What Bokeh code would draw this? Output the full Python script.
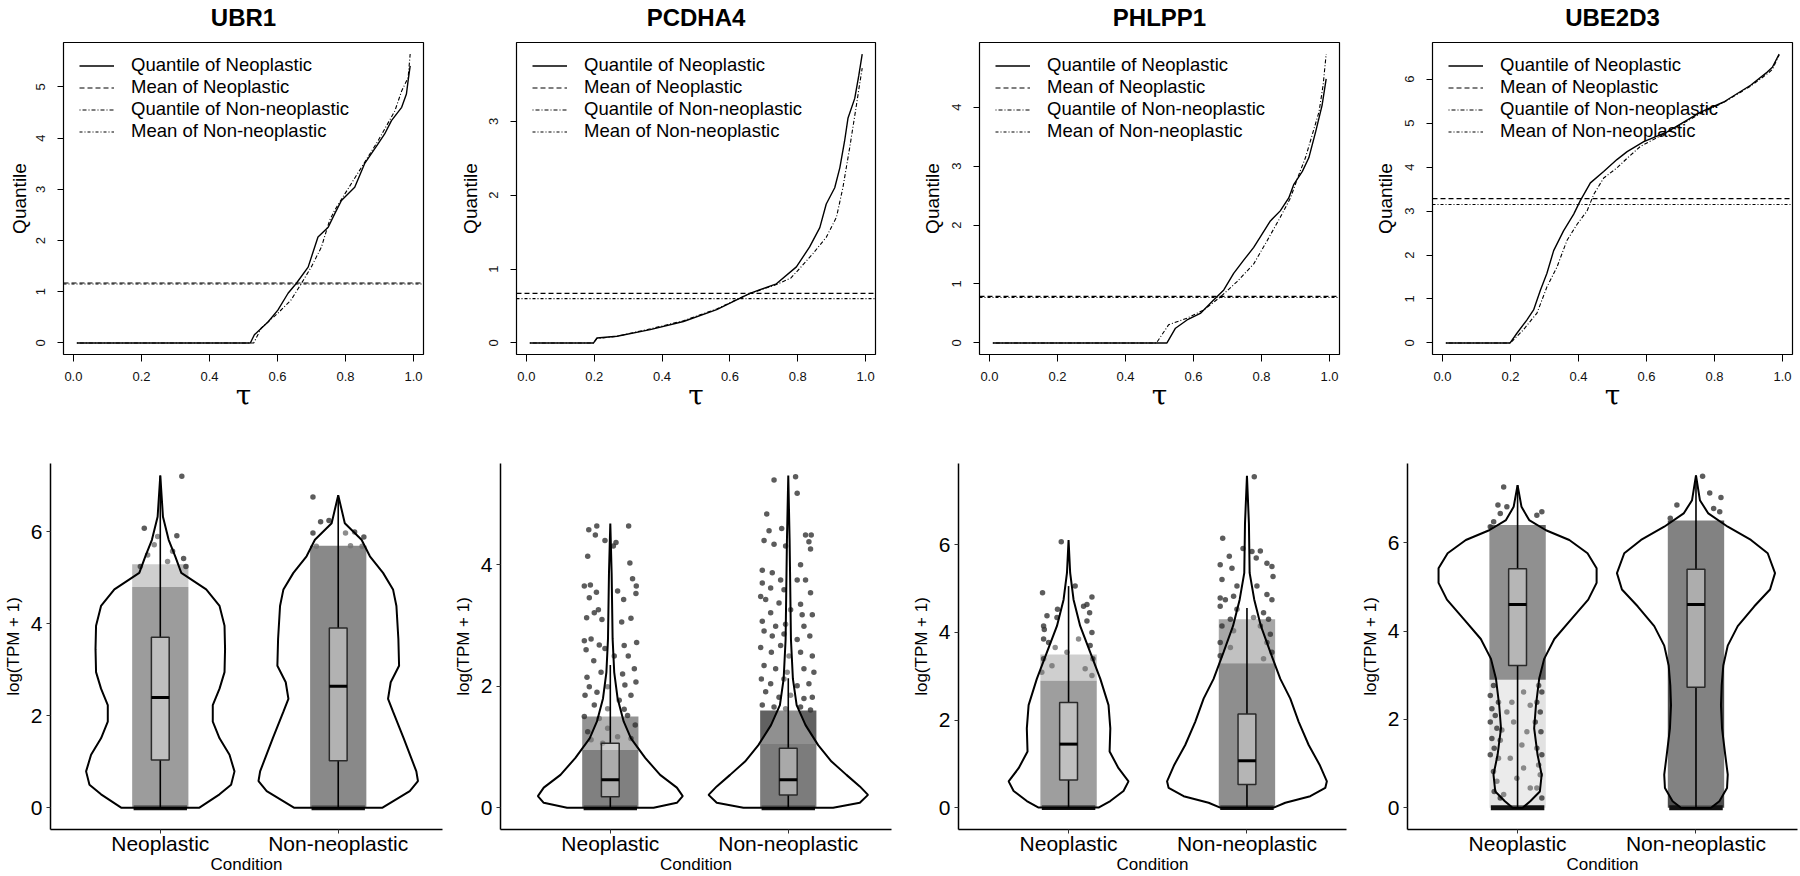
from bokeh.plotting import figure
from bokeh.layouts import row, column
from bokeh.models import (Range1d, FixedTicker, PrintfTickFormatter, Legend, LegendItem,
                          LinearAxis)
from bokeh.embed import file_html
from bokeh.resources import INLINE

# ---------------------------------------------------------------- data
GENES = ["UBR1", "PCDHA4", "PHLPP1", "UBE2D3"]
CONDITIONS = ["Neoplastic", "Non-neoplastic"]
LEGEND_LABELS = ["Quantile of Neoplastic", "Mean of Neoplastic",
                 "Quantile of Non-neoplastic", "Mean of Non-neoplastic"]
TOP_X_TICKS = [0.0, 0.2, 0.4, 0.6, 0.8, 1.0]
BOTTOM_Y_TICKS = [0, 2, 4, 6]
TOP_XLABEL, TOP_YLABEL = "τ", "Quantile"
BOT_XLABEL, BOT_YLABEL = "Condition", "log(TPM + 1)"

# quantile curves (tau, quantile)
ubr1_neo_tau = [0.01, 0.52, 0.532, 0.572, 0.601, 0.631, 0.655, 0.69, 0.719, 0.749, 0.768, 0.788,
                0.827, 0.856, 0.896, 0.915, 0.935, 0.965, 0.979, 0.984, 0.99]
ubr1_neo_q = [0, 0, 0.16, 0.41, 0.64, 0.97, 1.16, 1.48, 2.07, 2.26, 2.52, 2.78,
              3.04, 3.5, 3.89, 4.08, 4.34, 4.6, 4.86, 5.12, 5.41]
ubr1_non_tau = [0.01, 0.53, 0.552, 0.601, 0.64, 0.67, 0.699, 0.729, 0.753, 0.768, 0.798, 0.847,
                0.896, 0.945, 0.965, 0.984, 0.99]
ubr1_non_q = [0, 0, 0.29, 0.58, 0.84, 1.16, 1.48, 1.87, 2.39, 2.59, 2.91, 3.43,
              3.95, 4.53, 4.92, 5.18, 5.64]

pcdha4_neo_tau = [0.01, 0.198, 0.208, 0.267, 0.365, 0.463, 0.561, 0.659, 0.737, 0.796, 0.835,
                  0.865, 0.884, 0.909, 0.924, 0.938, 0.948, 0.968, 0.98, 0.99]
pcdha4_neo_q = [0, 0, 0.067, 0.09, 0.18, 0.29, 0.45, 0.67, 0.8, 1.03, 1.3,
                1.56, 1.88, 2.1, 2.37, 2.73, 3.04, 3.31, 3.62, 3.91]
pcdha4_non_tau = [0.01, 0.198, 0.208, 0.267, 0.365, 0.463, 0.561, 0.659, 0.737, 0.78, 0.796,
                  0.845, 0.884, 0.914, 0.933, 0.953, 0.973, 0.982, 0.99]
pcdha4_non_q = [0, 0, 0.06, 0.09, 0.19, 0.30, 0.46, 0.67, 0.79, 0.88, 0.96,
                1.21, 1.43, 1.70, 2.1, 2.64, 3.22, 3.49, 3.72]

phlpp1_neo_tau = [0.01, 0.522, 0.547, 0.581, 0.62, 0.659, 0.689, 0.718, 0.747, 0.777, 0.802,
                  0.826, 0.855, 0.88, 0.895, 0.92, 0.939, 0.959, 0.978, 0.99]
phlpp1_neo_q = [0, 0, 0.25, 0.39, 0.5, 0.73, 0.9, 1.18, 1.4, 1.62, 1.85,
                2.07, 2.24, 2.46, 2.69, 2.91, 3.14, 3.58, 4.03, 4.48]
phlpp1_non_tau = [0.01, 0.491, 0.527, 0.581, 0.63, 0.679, 0.728, 0.777, 0.817, 0.855, 0.885,
                  0.91, 0.929, 0.949, 0.969, 0.981, 0.99]
phlpp1_non_q = [0, 0, 0.31, 0.42, 0.56, 0.78, 1.04, 1.34, 1.74, 2.13, 2.46,
                2.86, 3.14, 3.53, 3.92, 4.37, 4.9]

ube2d3_neo_tau = [0.01, 0.199, 0.219, 0.248, 0.268, 0.288, 0.307, 0.327, 0.356, 0.386, 0.405,
                  0.435, 0.474, 0.513, 0.543, 0.592, 0.661, 0.759, 0.827, 0.906, 0.955, 0.97, 0.99]
ube2d3_neo_q = [0, 0, 0.22, 0.52, 0.75, 1.2, 1.58, 2.1, 2.55, 2.93, 3.23,
                3.64, 3.9, 4.17, 4.35, 4.58, 4.8, 5.25, 5.48, 5.86, 6.16, 6.27, 6.57]
ube2d3_non_tau = [0.01, 0.2, 0.238, 0.278, 0.307, 0.337, 0.366, 0.396, 0.425, 0.445, 0.474,
                  0.513, 0.543, 0.582, 0.661, 0.759, 0.827, 0.906, 0.955, 0.97, 0.99]
ube2d3_non_q = [0, 0, 0.3, 0.68, 1.27, 1.73, 2.33, 2.7, 3.0, 3.38, 3.75,
                3.98, 4.2, 4.47, 4.79, 5.22, 5.47, 5.84, 6.12, 6.22, 6.55]

# means (Neoplastic, Non-neoplastic)
ubr1_means = [1.17, 1.15]
pcdha4_means = [0.67, 0.60]
phlpp1_means = [0.79, 0.77]
ube2d3_means = [3.28, 3.15]

# violin outlines: value grid and half-width (in category units)
ubr1_neo_vy = [0, 0.29, 0.50, 0.79, 1.15, 1.51, 1.87, 2.23, 2.59, 2.95, 3.45, 3.96, 4.39, 4.75,
               5.11, 5.47, 5.83, 6.33, 7.23]
ubr1_neo_vw = [0.220, 0.333, 0.398, 0.417, 0.389, 0.333, 0.295, 0.295, 0.333, 0.361, 0.364,
               0.361, 0.333, 0.258, 0.118, 0.084, 0.047, 0.015, 0.0]
ubr1_non_vy = [0, 0.36, 0.58, 0.79, 1.51, 2.09, 2.37, 2.73, 3.09, 3.67, 4.39, 4.75, 5.11, 5.47,
               5.83, 6.19, 6.80]
ubr1_non_vw = [0.249, 0.402, 0.448, 0.439, 0.368, 0.308, 0.280, 0.295, 0.342, 0.338, 0.327,
               0.308, 0.252, 0.178, 0.131, 0.037, 0.0]
pcdha4_neo_vy = [0, 0.08, 0.19, 0.33, 0.54, 0.82, 1.14, 1.42, 1.80, 2.23, 2.78, 3.86, 4.68]
pcdha4_neo_vw = [0.243, 0.374, 0.407, 0.374, 0.280, 0.196, 0.116, 0.075, 0.041, 0.022, 0.013,
                 0.0075, 0.0]
pcdha4_non_vy = [0, 0.08, 0.21, 0.35, 0.54, 0.76, 1.03, 1.36, 1.69, 2.12, 2.77, 4.41, 5.47]
pcdha4_non_vw = [0.252, 0.402, 0.448, 0.402, 0.327, 0.243, 0.168, 0.097, 0.047, 0.026, 0.015,
                 0.0075, 0.0]
phlpp1_neo_vy = [0, 0.15, 0.38, 0.60, 0.90, 1.28, 1.81, 2.34, 2.94, 3.55, 4.15, 4.75, 5.36, 6.11]
phlpp1_neo_vw = [0.168, 0.234, 0.308, 0.336, 0.280, 0.230, 0.234, 0.224, 0.178, 0.121, 0.065,
                 0.028, 0.009, 0.0]
phlpp1_non_vy = [0, 0.11, 0.26, 0.45, 0.60, 0.98, 1.43, 1.96, 2.49, 2.94, 3.55, 4.15, 4.75, 5.36,
                 6.49, 7.58]
phlpp1_non_vw = [0.150, 0.215, 0.355, 0.439, 0.448, 0.407, 0.346, 0.290, 0.243, 0.187, 0.131,
                 0.078, 0.041, 0.015, 0.011, 0.0]
ube2d3_neo_vy = [0, 0.15, 0.37, 0.75, 1.20, 1.80, 2.32, 2.92, 3.37, 3.82, 4.26, 4.71, 5.09, 5.42,
                 5.76, 6.06, 6.28, 6.51, 6.81, 7.30]
ube2d3_neo_vw = [0.028, 0.071, 0.125, 0.135, 0.112, 0.093, 0.103, 0.121, 0.149, 0.206, 0.299,
                 0.396, 0.443, 0.443, 0.392, 0.290, 0.159, 0.065, 0.022, 0.0]
ube2d3_non_vy = [0, 0.15, 0.45, 0.75, 1.20, 1.80, 2.32, 2.77, 3.22, 3.67, 4.11, 4.56, 4.94, 5.31,
                 5.76, 6.06, 6.36, 6.66, 6.96, 7.52]
ube2d3_non_vw = [0.084, 0.131, 0.174, 0.178, 0.164, 0.146, 0.140, 0.144, 0.153, 0.178, 0.234,
                 0.327, 0.415, 0.443, 0.402, 0.308, 0.178, 0.069, 0.022, 0.0]

# box statistics: lower whisker, Q1, median, Q3, upper whisker
ubr1_neo_box = [0, 1.04, 2.40, 3.71, 7.23]
ubr1_non_box = [0, 1.02, 2.64, 3.91, 6.80]
pcdha4_neo_box = [0, 0.18, 0.46, 1.06, 2.35]
pcdha4_non_box = [0, 0.21, 0.46, 0.98, 2.13]
phlpp1_neo_box = [0, 0.63, 1.45, 2.40, 5.06]
phlpp1_non_box = [0, 0.53, 1.07, 2.14, 4.56]
ube2d3_neo_box = [0, 3.22, 4.60, 5.41, 7.30]
ube2d3_non_box = [0, 2.73, 4.60, 5.40, 7.52]

# densely overlapping jittered samples: value spans (from, to, density)
ubr1_neo_dense = [(0, 4.8, 0.72), (4.8, 5.3, 0.35)]
ubr1_non_dense = [(0, 5.7, 0.85)]
pcdha4_neo_dense = [(0, 0.95, 0.92), (0.95, 1.5, 0.55)]
pcdha4_non_dense = [(0, 1.05, 0.95), (1.05, 1.6, 0.8)]
phlpp1_neo_dense = [(0, 2.9, 0.7), (2.9, 3.5, 0.35)]
phlpp1_non_dense = [(0, 3.3, 0.82), (3.3, 4.3, 0.45)]
ube2d3_neo_dense = [(0, 2.9, 0.15), (2.9, 6.4, 0.8)]
ube2d3_non_dense = [(0, 6.5, 0.9)]

# individually visible jittered samples: (jitter offset, value)
ubr1_neo_pts = [(0.121, 7.21), (-0.09, 6.08), (0.093, 5.92), (0.131, 5.42), (-0.071, 5.50),
                (-0.034, 5.72), (-0.112, 5.25), (0.041, 5.36), (0.069, 5.58), (0.144, 5.25),
                (-0.015, 5.90)]
ubr1_non_pts = [(-0.142, 6.76), (-0.142, 5.98), (-0.099, 6.22), (-0.052, 6.25), (0.041, 5.98),
                (0.092, 6.0), (0.144, 5.89), (0.134, 5.69), (-0.123, 5.69), (0.069, 5.70)]
pcdha4_neo_pts = [(-0.121, 4.58), (-0.076, 4.64), (-0.084, 4.49), (0.103, 4.64), (-0.030, 4.40),
                  (0.032, 4.37), (0.017, 4.31), (-0.127, 4.14), (0.110, 4.03), (0.125, 3.77),
                  (-0.146, 3.65), (-0.112, 3.67), (0.146, 3.65), (0.144, 3.53), (-0.078, 3.55),
                  (0.041, 3.57), (0.075, 3.43), (-0.118, 3.46), (-0.067, 3.26), (-0.090, 3.21),
                  (-0.133, 3.13), (-0.047, 3.10), (0.064, 3.06), (0.116, 3.12), (-0.146, 2.75),
                  (-0.108, 2.78), (-0.062, 2.68), (0.078, 2.67), (0.148, 2.72), (-0.136, 2.60),
                  (-0.030, 2.62), (0.022, 2.50), (-0.093, 2.42), (0.101, 2.50), (-0.131, 2.15),
                  (-0.052, 2.23), (0.069, 2.20), (0.135, 2.29), (-0.118, 1.99), (-0.075, 1.90),
                  (-0.015, 1.99), (0.082, 2.02), (0.144, 2.07), (-0.142, 1.85), (0.116, 1.85),
                  (0.050, 1.77), (-0.090, 1.69), (-0.015, 1.63), (0.078, 1.62), (-0.146, 1.50),
                  (-0.062, 1.47), (0.097, 1.52), (0.140, 1.36), (-0.127, 1.25), (-0.015, 1.31),
                  (0.041, 1.17), (0.116, 1.14), (-0.108, 1.12), (-0.043, 1.06)]
pcdha4_non_pts = [(-0.080, 5.40), (0.041, 5.45), (0.050, 5.18), (-0.121, 4.84), (-0.108, 4.56),
                  (-0.037, 4.60), (-0.136, 4.40), (-0.080, 4.34), (-0.015, 4.31), (0.097, 4.49),
                  (0.129, 4.49), (0.116, 4.38), (0.125, 4.26), (0.069, 4.00), (-0.146, 3.91),
                  (-0.090, 3.87), (-0.043, 3.75), (0.050, 3.75), (0.097, 3.75), (0.125, 3.54),
                  (0.069, 3.35), (-0.146, 3.70), (-0.099, 3.62), (-0.024, 3.59), (-0.155, 3.48),
                  (-0.127, 3.43), (-0.052, 3.37), (-0.099, 3.21), (0.013, 3.26), (0.078, 3.18),
                  (0.135, 3.18), (-0.146, 3.07), (-0.071, 2.99), (-0.015, 3.02), (0.088, 2.99),
                  (-0.136, 2.91), (-0.090, 2.83), (-0.024, 2.86), (0.050, 2.77), (0.121, 2.83),
                  (-0.155, 2.64), (-0.095, 2.56), (-0.043, 2.67), (0.004, 2.50), (0.069, 2.56),
                  (0.135, 2.50), (-0.136, 2.34), (-0.071, 2.29), (-0.006, 2.23), (0.088, 2.29),
                  (0.144, 2.23), (-0.151, 2.12), (-0.099, 2.04), (-0.024, 2.12), (0.050, 2.01),
                  (0.116, 2.04), (-0.127, 1.91), (-0.052, 1.82), (0.013, 1.85), (0.088, 1.80),
                  (0.135, 1.82), (-0.146, 1.69), (-0.080, 1.66), (-0.015, 1.63), (0.069, 1.66),
                  (0.125, 1.61)]
phlpp1_neo_pts = [(-0.041, 6.07), (-0.146, 4.91), (0.037, 5.06), (-0.062, 4.53), (0.084, 4.60),
                  (0.103, 4.64), (0.131, 4.81), (0.118, 4.45), (-0.121, 4.38), (-0.065, 4.34),
                  (-0.140, 4.15), (-0.136, 4.07), (0.103, 4.26), (0.131, 4.00), (-0.140, 3.85),
                  (-0.112, 3.77), (-0.075, 3.66), (-0.009, 3.55), (0.056, 3.85), (0.121, 3.70),
                  (0.136, 3.40), (-0.140, 3.40), (-0.093, 3.24), (0.093, 3.17), (0.131, 3.02),
                  (-0.150, 3.09)]
phlpp1_non_pts = [(0.041, 7.56), (-0.136, 6.15), (-0.022, 5.92), (0.028, 5.85), (0.075, 5.86),
                  (0.052, 5.70), (-0.150, 5.55), (-0.099, 5.74), (-0.084, 5.47), (0.112, 5.58),
                  (0.140, 5.51), (0.146, 5.28), (-0.140, 5.21), (-0.056, 5.06), (0.056, 5.06),
                  (0.112, 4.87), (-0.150, 4.79), (-0.121, 4.75), (-0.075, 4.83), (0.140, 4.75),
                  (-0.150, 4.60), (-0.056, 4.53), (0.093, 4.45), (-0.093, 4.30), (0.037, 4.34),
                  (0.121, 4.30), (-0.140, 4.15), (-0.075, 4.04), (0.075, 4.15), (0.131, 3.96),
                  (-0.150, 3.77), (-0.093, 3.66), (0.112, 3.77), (0.140, 3.55), (-0.150, 3.47),
                  (0.093, 3.40)]
ube2d3_neo_pts = [(-0.078, 7.26), (-0.110, 6.85), (-0.060, 6.81), (-0.097, 6.66), (0.136, 6.70),
                  (0.108, 6.62), (-0.134, 6.47), (-0.153, 6.36),
                  (-0.135, 2.77), (-0.153, 2.54), (-0.107, 2.39), (-0.144, 2.24), (-0.125, 2.09),
                  (-0.153, 1.94), (-0.116, 1.80), (-0.144, 1.57), (-0.097, 1.53), (-0.131, 1.35),
                  (-0.153, 1.20), (-0.107, 1.12), (-0.135, 0.82), (-0.116, 0.60), (-0.131, 0.37),
                  (-0.097, 0.22), (0.118, 2.77), (0.136, 2.62), (0.108, 2.39), (0.127, 2.17),
                  (0.099, 1.94), (0.131, 1.72), (0.108, 1.35), (0.136, 1.20), (0.118, 0.97),
                  (0.127, 0.75), (0.108, 0.45), (0.136, 0.22), (0.034, 2.62), (0.071, 2.32),
                  (-0.060, 2.17), (-0.022, 1.94), (0.052, 1.72), (0.024, 1.42), (-0.041, 1.12),
                  (0.034, 0.90), (-0.004, 0.67), (0.071, 0.45), (-0.078, 0.30), (-0.032, 2.39),
                  (-0.088, 1.76)]
ube2d3_non_pts = [(0.037, 7.50), (0.077, 7.12), (0.140, 7.02), (-0.107, 6.85), (0.099, 6.77),
                  (0.133, 6.70), (-0.144, 6.55)]

ZERO_VALUE = 0.0          # many samples sit exactly at zero
JITTER_HALF_WIDTH = 0.15
BOX_HALF_WIDTH = 0.05

TOP = {
    "UBR1": (ubr1_neo_tau, ubr1_neo_q, ubr1_non_tau, ubr1_non_q, ubr1_means),
    "PCDHA4": (pcdha4_neo_tau, pcdha4_neo_q, pcdha4_non_tau, pcdha4_non_q, pcdha4_means),
    "PHLPP1": (phlpp1_neo_tau, phlpp1_neo_q, phlpp1_non_tau, phlpp1_non_q, phlpp1_means),
    "UBE2D3": (ube2d3_neo_tau, ube2d3_neo_q, ube2d3_non_tau, ube2d3_non_q, ube2d3_means),
}
BOTTOM = {
    "UBR1": [(ubr1_neo_vy, ubr1_neo_vw, ubr1_neo_box, ubr1_neo_dense, ubr1_neo_pts),
             (ubr1_non_vy, ubr1_non_vw, ubr1_non_box, ubr1_non_dense, ubr1_non_pts)],
    "PCDHA4": [(pcdha4_neo_vy, pcdha4_neo_vw, pcdha4_neo_box, pcdha4_neo_dense, pcdha4_neo_pts),
               (pcdha4_non_vy, pcdha4_non_vw, pcdha4_non_box, pcdha4_non_dense, pcdha4_non_pts)],
    "PHLPP1": [(phlpp1_neo_vy, phlpp1_neo_vw, phlpp1_neo_box, phlpp1_neo_dense, phlpp1_neo_pts),
               (phlpp1_non_vy, phlpp1_non_vw, phlpp1_non_box, phlpp1_non_dense, phlpp1_non_pts)],
    "UBE2D3": [(ube2d3_neo_vy, ube2d3_neo_vw, ube2d3_neo_box, ube2d3_neo_dense, ube2d3_neo_pts),
               (ube2d3_non_vy, ube2d3_non_vw, ube2d3_non_box, ube2d3_non_dense, ube2d3_non_pts)],
}

# ---------------------------------------------------------------- layout / style
FONT = "Liberation Sans"
COL_W = 450
TOP_H, TOP_BT, TOP_BB = 440, 41, 86
BOT_H, BOT_BT, BOT_BB = 436, 23, 44
TOP_BORDERS = [(63, 27, 4), (66, 25, 6), (79, 11, 7), (82, 8, 7)]   # left, right, label standoff
BOT_BORDERS = [(49, 8), (49, 9), (58, 4), (57, 3)]
BOT_XEND = [2.586, 2.580, 2.558, 2.569]
BOT_YRANGE = [(-0.475, 7.49), (-0.36, 5.67), (-0.5, 7.86), (-0.49, 7.79)]
LINE_STYLES = [("solid", 1.4), ("5 3", 1.2), ("1 2 4 2", 1.1), ("3 2 1 2", 1.1)]


def style_axis_label(ax, text, size, font=FONT, standoff=0, bold=False):
    ax.axis_label = text
    ax.axis_label_text_font = font
    ax.axis_label_text_font_size = size
    ax.axis_label_text_font_style = "bold" if bold else "normal"
    ax.axis_label_text_color = "black"
    ax.axis_label_standoff = standoff


def top_panel(i):
    gene = GENES[i]
    neo_t, neo_q, non_t, non_q, means = TOP[gene]
    ymax = max(max(neo_q), max(non_q))
    tmin = min(min(neo_t), min(non_t))
    tmax = max(max(neo_t), max(non_t))
    pad = 0.04 * (tmax - tmin)
    x0, x1 = tmin - pad, tmax + pad
    lb, rb, lstand = TOP_BORDERS[i]
    p = figure(width=COL_W, height=TOP_H, output_backend="svg", toolbar_location=None,
               x_range=Range1d(x0, x1), y_range=Range1d(-0.04 * ymax, 1.04 * ymax),
               min_border_left=lb, min_border_right=rb, min_border_top=TOP_BT,
               min_border_bottom=TOP_BB)
    p.frame_align = False
    p.outline_line_color = "black"
    p.outline_line_width = 1.2
    p.xgrid.visible = False
    p.ygrid.visible = False
    ax = p.below[0]
    ay = p.left[0]

    # panel title drawn as the label of a tick-less top axis
    tax = LinearAxis(ticker=FixedTicker(ticks=[]), axis_line_color=None,
                     major_tick_line_color=None, minor_tick_line_color=None,
                     major_tick_out=0, major_tick_in=0, major_label_standoff=0)
    style_axis_label(tax, gene, "24px", standoff=12, bold=True)
    p.add_layout(tax, "above")

    r1 = p.line(neo_t, neo_q, line_color="black", line_width=LINE_STYLES[0][1],
                line_dash=LINE_STYLES[0][0])
    r2 = p.line([x0, x1], [means[0], means[0]], line_color="black",
                line_width=LINE_STYLES[1][1], line_dash=LINE_STYLES[1][0])
    r3 = p.line(non_t, non_q, line_color="black", line_width=LINE_STYLES[2][1],
                line_dash=LINE_STYLES[2][0])
    r4 = p.line([x0, x1], [means[1], means[1]], line_color="black",
                line_width=LINE_STYLES[3][1], line_dash=LINE_STYLES[3][0])
    legend = Legend(items=[LegendItem(label=LEGEND_LABELS[k], renderers=[r])
                           for k, r in enumerate([r1, r2, r3, r4])],
                    location=(16, 212), orientation="vertical",
                    glyph_width=35, glyph_height=21, label_height=21, spacing=0,
                    padding=0, margin=0, label_standoff=17,
                    border_line_color=None, background_fill_alpha=0,
                    label_text_font=FONT, label_text_font_size="18.5px",
                    label_text_color="black")
    p.add_layout(legend, "center")

    ax.ticker = FixedTicker(ticks=TOP_X_TICKS)
    ax.formatter = PrintfTickFormatter(format="%.1f")
    style_axis_label(ax, TOP_XLABEL, "28px", font="DejaVu Serif", standoff=-5)
    ax.major_label_standoff = 10
    ax.major_label_text_font = FONT
    ax.major_label_text_font_size = "13px"
    ax.major_label_text_color = "#111111"
    ax.major_tick_out = 7
    ax.major_tick_in = 0
    ax.minor_tick_line_color = None
    ax.axis_line_color = None
    ax.major_tick_line_color = "black"

    ay.ticker = FixedTicker(ticks=list(range(0, int(ymax) + 1)))
    ay.formatter = PrintfTickFormatter(format="%d")
    ay.major_label_orientation = "vertical"
    style_axis_label(ay, TOP_YLABEL, "19px", standoff=lstand)
    ay.major_label_standoff = 12
    ay.major_label_text_font = FONT
    ay.major_label_text_font_size = "13px"
    ay.major_label_text_color = "#111111"
    ay.major_tick_out = 6
    ay.major_tick_in = 0
    ay.minor_tick_line_color = None
    ay.axis_line_color = None
    ay.major_tick_line_color = "black"
    return p


def bottom_panel(i):
    gene = GENES[i]
    lb, rb = BOT_BORDERS[i]
    p = figure(width=COL_W, height=BOT_H, output_backend="svg", toolbar_location=None,
               x_range=Range1d(0.383, BOT_XEND[i]), y_range=Range1d(*BOT_YRANGE[i]),
               min_border_left=lb, min_border_right=rb, min_border_top=BOT_BT,
               min_border_bottom=BOT_BB)
    p.frame_align = False
    p.outline_line_color = None
    p.xgrid.visible = False
    p.ygrid.visible = False

    for k, (vy, vw, box, dense, pts) in enumerate(BOTTOM[gene]):
        c = k + 1
        # dense clouds of jittered points
        for (y0, y1, a) in dense:
            p.quad(left=[c - JITTER_HALF_WIDTH - 0.008], right=[c + JITTER_HALF_WIDTH + 0.008],
                   bottom=[y0], top=[y1], fill_color="#3a3a3a", fill_alpha=a, line_color=None)
        # individual points
        p.scatter([c + d for d, _ in pts], [v for _, v in pts], size=5.5,
                  fill_color="#333333", fill_alpha=0.8, line_color=None)
        # samples at zero
        p.rect(x=[c], y=[ZERO_VALUE], width=2 * JITTER_HALF_WIDTH, height=5,
               height_units="screen", fill_color="#111111", line_color=None)
        # violin
        xs = [c + w for w in vw] + [c - w for w in reversed(vw)]
        ys = list(vy) + list(reversed(vy))
        p.patch(xs, ys, fill_color="white", fill_alpha=0.3, line_color="black", line_width=2)
        # box plot
        lo, q1, med, q3, hi = box
        p.segment(x0=[c, c], y0=[lo, q3], x1=[c, c], y1=[q1, hi], line_color="black",
                  line_width=1.6)
        p.quad(left=[c - BOX_HALF_WIDTH], right=[c + BOX_HALF_WIDTH], bottom=[q1], top=[q3],
               fill_color="white", fill_alpha=0.35, line_color="#2a2a2a", line_width=1.5)
        p.segment(x0=[c - BOX_HALF_WIDTH], y0=[med], x1=[c + BOX_HALF_WIDTH], y1=[med],
                  line_color="black", line_width=3)

    ax = p.below[0]
    ax.ticker = FixedTicker(ticks=[1, 2])
    ax.major_label_overrides = {1: CONDITIONS[0], 2: CONDITIONS[1]}
    style_axis_label(ax, BOT_XLABEL, "17px", standoff=-3)
    ax.major_label_standoff = -2
    ax.major_label_text_font = FONT
    ax.major_label_text_font_size = "21px"
    ax.major_label_text_color = "black"
    ax.major_tick_out = 4
    ax.major_tick_in = 0
    ax.minor_tick_line_color = None
    ax.axis_line_color = "black"
    ax.axis_line_width = 1.5
    ax.major_tick_line_color = "#333333"

    ay = p.left[0]
    ay.ticker = FixedTicker(ticks=BOTTOM_Y_TICKS)
    style_axis_label(ay, BOT_YLABEL, "17px", standoff=5)
    ay.major_label_standoff = 4
    ay.major_label_text_font = FONT
    ay.major_label_text_font_size = "21px"
    ay.major_label_text_color = "black"
    ay.major_tick_out = 4
    ay.major_tick_in = 0
    ay.minor_tick_line_color = None
    ay.axis_line_color = "black"
    ay.axis_line_width = 1.5
    ay.major_tick_line_color = "#333333"
    return p


columns = [column(top_panel(i), bottom_panel(i), spacing=0) for i in range(4)]
layout = row(*columns, spacing=0)

open("out.html", "w").write(file_html(layout, INLINE))
